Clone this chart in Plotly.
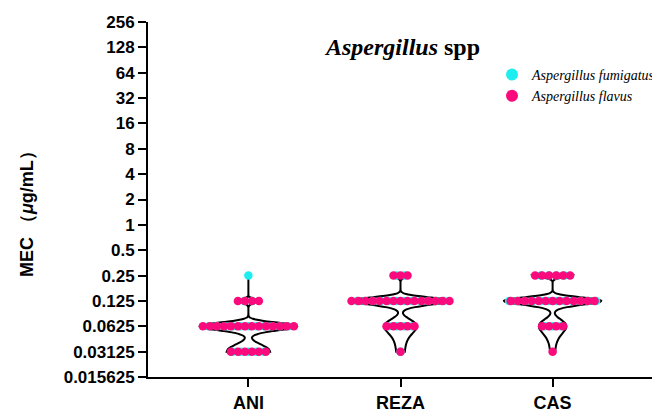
import numpy as np
import plotly.graph_objects as go

# ---- data ----
drugs = ["ANI", "REZA", "CAS"]
levels = [0.03125, 0.0625, 0.125, 0.25]
# number of isolates at each MEC level (0.03125, 0.0625, 0.125, 0.25)
fumigatus_counts = {
    "ANI": [5, 11, 2, 1],
    "REZA": [1, 4, 12, 2],
    "CAS": [0, 3, 12, 4],
}
flavus_counts = {
    "ANI": [6, 14, 4, 0],
    "REZA": [1, 5, 15, 3],
    "CAS": [1, 4, 13, 6],
}
y_tick_vals = [0.015625, 0.03125, 0.0625, 0.125, 0.25, 0.5, 1, 2, 4, 8, 16, 32, 64, 128, 256]
y_tick_text = ["0.015625", "0.03125", "0.0625", "0.125", "0.25", "0.5", "1", "2", "4",
               "8", "16", "32", "64", "128", "256"]
bandwidths = {"ANI": 0.0065, "REZA": 0.0125, "CAS": 0.0125}

CYAN = "#1EEEF0"
PINK = "#FA0A7C"
SANS = "Liberation Sans, Arial, sans-serif"
SERIF = "Liberation Serif, Times New Roman, serif"

# page body has an 8px default margin; figure is sized to fill the rest of the window
PAGE_OFF = 8
FIG_W, FIG_H = 660 - PAGE_OFF, 414 - PAGE_OFF
PLOT_L, PLOT_R, PLOT_T, PLOT_B = 148, 653, 22, 377  # target window pixels


def row_offsets(n, step):
    return (np.arange(n) - (n - 1) / 2.0) * step


def expand(counts):
    vals = []
    for lvl, n in zip(levels, counts):
        vals += [lvl] * n
    return vals


def swarm(counts_by_drug, step):
    xs, ys = [], []
    for i, d in enumerate(drugs):
        for lvl, n in zip(levels, counts_by_drug[d]):
            xs += list(i + row_offsets(n, step))
            ys += [lvl] * n
    return xs, ys


def px2paper_x(px):
    return (px - PLOT_L) / (PLOT_R - PLOT_L)


def px2paper_y(py):
    return (PLOT_B - py) / (PLOT_B - PLOT_T)


fig = go.Figure()

for i, d in enumerate(drugs):
    allv = expand(fumigatus_counts[d]) + expand(flavus_counts[d])
    fig.add_trace(go.Violin(
        x0=i, y=allv, name=d, showlegend=False,
        bandwidth=bandwidths[d], spanmode="hard",
        width=0.64, scalemode="width",
        line=dict(color="black", width=2),
        fillcolor="rgba(255,255,255,0)",
        points=False, box_visible=False, meanline_visible=False,
        hoverinfo="skip",
    ))

fx, fy = swarm(fumigatus_counts, 0.052)
fig.add_trace(go.Scatter(
    x=fx, y=fy, mode="markers", name="Aspergillus fumigatus",
    marker=dict(color=CYAN, size=8.5, line=dict(width=0)),
))
px_, py_ = swarm(flavus_counts, 0.046)
fig.add_trace(go.Scatter(
    x=px_, y=py_, mode="markers", name="Aspergillus flavus",
    marker=dict(color=PINK, size=8.5, line=dict(width=0)),
))

fig.update_layout(
    width=FIG_W, height=FIG_H,
    margin=dict(l=PLOT_L - PAGE_OFF, r=660 - PLOT_R, t=PLOT_T - PAGE_OFF,
                b=414 - PLOT_B, autoexpand=False),
    paper_bgcolor="white", plot_bgcolor="white",
    violinmode="overlay",
    showlegend=True,
    legend=dict(
        x=px2paper_x(492), y=px2paper_y(59), xanchor="left", yanchor="top",
        font=dict(family=SERIF, size=14, color="black", style="italic"),
        itemsizing="constant", bgcolor="rgba(0,0,0,0)", borderwidth=0,
        tracegroupgap=0,
    ),
    annotations=[
        dict(text="<b><i>Aspergillus</i> spp</b>", xref="paper", yref="paper",
             x=px2paper_x(402), y=px2paper_y(47), xanchor="center", yanchor="middle",
             showarrow=False, font=dict(family=SERIF, size=24, color="black")),
        dict(text="<b>MEC （<i>μ</i>g/mL）</b>", xref="paper", yref="paper",
             x=px2paper_x(27), y=px2paper_y(210), xanchor="center", yanchor="middle",
             textangle=-90, showarrow=False,
             font=dict(family=SANS, size=18, color="black")),
    ],
)

fig.update_xaxes(
    range=[-0.66, 2.66], tickvals=[0, 1, 2], ticktext=drugs,
    showline=True, linecolor="black", linewidth=2,
    ticks="outside", ticklen=8, tickwidth=1.5, tickcolor="black",
    showgrid=False, zeroline=False, automargin=False,
    tickfont=dict(family=SANS, size=18, color="black", weight="bold"),
)
fig.update_yaxes(
    type="log", range=[np.log10(0.015625), np.log10(256)],
    tickvals=y_tick_vals, ticktext=y_tick_text,
    showline=True, linecolor="black", linewidth=2,
    ticks="outside", ticklen=8, tickwidth=1.5, tickcolor="black",
    showgrid=False, zeroline=False, automargin=False,
    tickfont=dict(family=SANS, size=17, color="black", weight="bold"),
)

fig.write_html("out.html")
